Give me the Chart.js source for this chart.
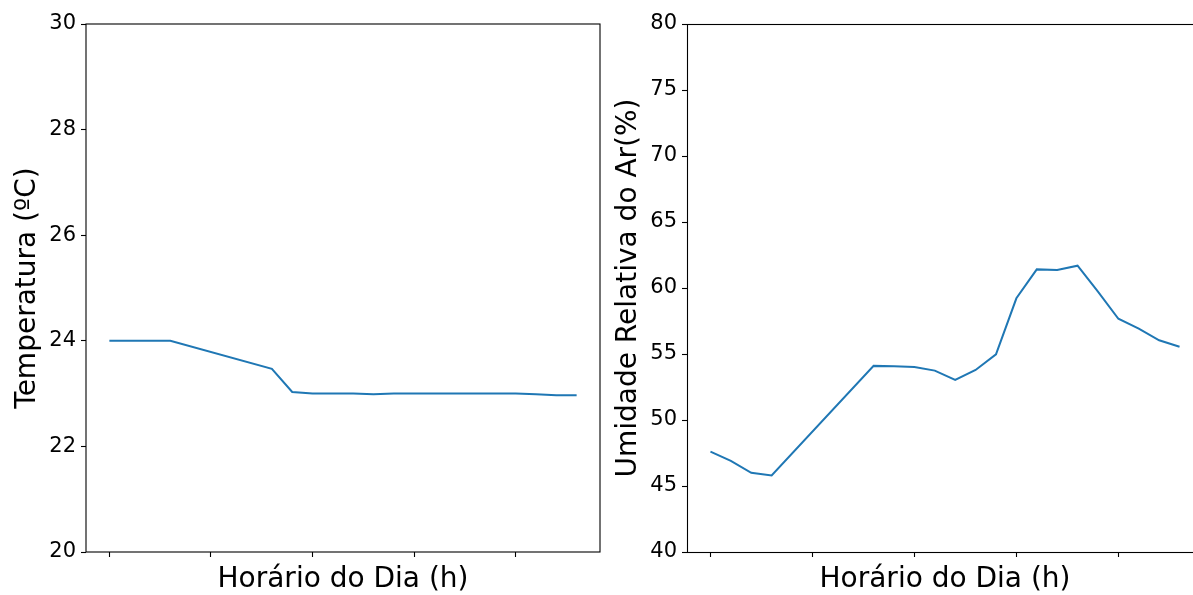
<!DOCTYPE html>
<html>
<head>
<meta charset="utf-8">
<script src="https://cdn.jsdelivr.net/npm/chart.js@4/dist/chart.umd.min.js"></script>
<style>
  html, body { margin: 0; padding: 0; background: #fff; overflow: hidden; width: 1193px; height: 595px; }
  .wrap { position: absolute; top: 0; width: 643px; height: 597px; }
  #w1 { left: 0; }
  #w2 { left: 601px; }
</style>
</head>
<body>
<div class="wrap" id="w1"><canvas id="c1" width="643" height="597"></canvas></div>
<div class="wrap" id="w2"><canvas id="c2" width="643" height="597"></canvas></div>
<script>
// ---- data ----
const timeIndex = [0,1,2,3,4,5,6,7,8,9,10,11,12,13,14,15,16,17,18,19,20,21,22,23];
const temperatura = [24.0,24.0,24.0,24.0,null,null,null,null,23.47,23.03,23.0,23.0,23.0,22.99,23.0,23.0,23.0,23.0,23.0,23.0,23.0,22.99,22.97,22.97];
const umidade = [47.6,46.9,46.0,45.8,null,null,null,null,54.1,54.08,54.02,53.74,53.03,53.79,54.98,59.22,61.41,61.36,61.69,59.72,57.67,56.92,56.04,55.55];
const xTickValues = [0,5,10,15,20];
const tempTicks = [20,22,24,26,28,30];
const humTicks = [40,45,50,55,60,65,70,75,80];
const xLabel = 'Horário do Dia (h)';
const tempLabel = 'Temperatura (ºC)';
const humLabel = 'Umidade Relativa do Ar(%)';

const FONT = 'DejaVu Sans';
const LINE_COLOR = '#1f77b4';

function framePlugin(offset) {
  return {
    id: 'frame',
    afterDraw(chart) {
      const {ctx, chartArea: a} = chart;
      ctx.save();
      ctx.strokeStyle = '#000';
      ctx.lineWidth = 1.1;
      ctx.strokeRect(a.left + offset, a.top + offset, a.right - a.left, a.bottom - a.top);
      ctx.restore();
    }
  };
}

function makeChart(id, values, yTicks, yLabel, offset, padRight) {
  const pts = timeIndex.map((t, i) => ({x: t, y: values[i]}));
  return new Chart(document.getElementById(id), {
    type: 'line',
    data: {
      datasets: [{
        data: pts,
        borderColor: LINE_COLOR,
        borderWidth: 2,
        pointRadius: 0,
        tension: 0,
        spanGaps: true,
        fill: false
      }]
    },
    options: {
      responsive: false,
      animation: false,
      devicePixelRatio: 1,
      layout: { padding: { top: 24, right: padRight, left: 0, bottom: 0 } },
      plugins: { legend: { display: false }, tooltip: { enabled: false } },
      scales: {
        x: {
          type: 'linear',
          min: -1.15,
          max: 24.15,
          afterBuildTicks: s => { s.ticks = xTickValues.map(v => ({value: v})); },
          afterFit: s => { s.height = 45; },
          border: { display: false },
          grid: { drawOnChartArea: false, drawTicks: true, tickLength: 5, tickColor: '#000', tickWidth: 1.1 },
          ticks: { display: true, callback: () => '', font: { family: FONT, size: 21 } },
          title: { display: true, text: xLabel, color: '#000', padding: 0, font: { family: FONT, size: 28 } }
        },
        y: {
          type: 'linear',
          min: yTicks[0],
          max: yTicks[yTicks.length - 1],
          afterBuildTicks: s => { s.ticks = yTicks.map(v => ({value: v})); },
          afterFit: s => { s.width = 86; },
          border: { display: false },
          grid: { drawOnChartArea: false, drawTicks: true, tickLength: 5, tickColor: '#000', tickWidth: 1.1 },
          ticks: { color: '#000', padding: 5, font: { family: FONT, size: 21 } },
          title: { display: true, text: yLabel, color: '#000', padding: { top: 11, bottom: 0 }, font: { family: FONT, size: 28 } }
        }
      }
    },
    plugins: [framePlugin(offset)]
  });
}

makeChart('c1', temperatura, tempTicks, tempLabel, 0, 43);
makeChart('c2', umidade, humTicks, humLabel, 0.5, 41);
</script>
</body>
</html>
